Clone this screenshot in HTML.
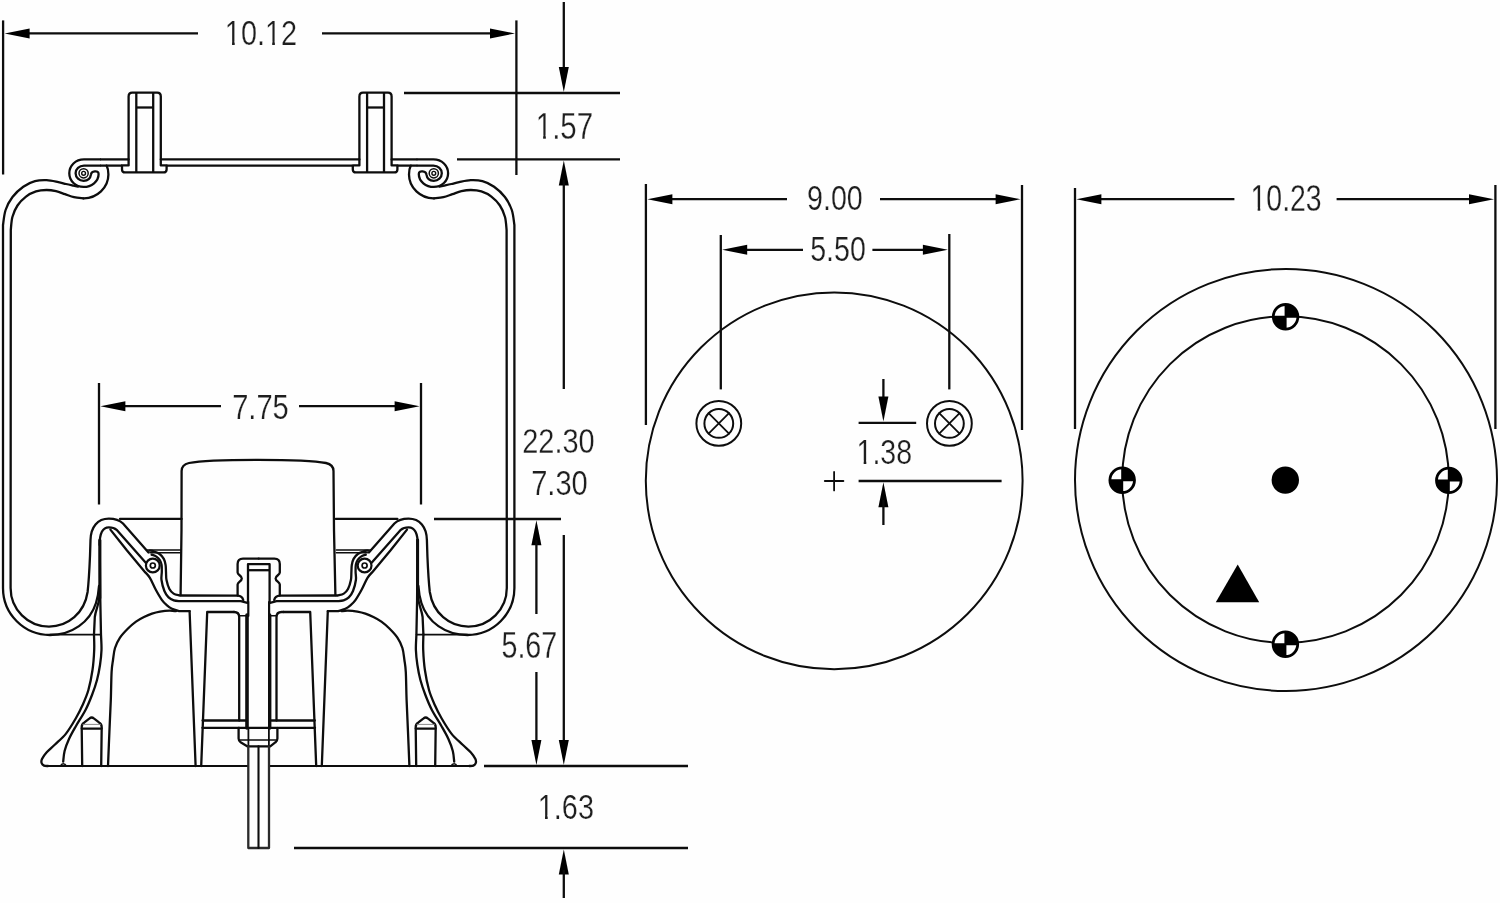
<!DOCTYPE html>
<html lang="en">
<head>
<meta charset="utf-8">
<title>Air spring dimensions</title>
<style>
html,body{margin:0;padding:0;background:#fefefe;}
body{width:1500px;height:903px;overflow:hidden;}
svg{display:block;}
</style>
</head>
<body>
<svg width="1500" height="903" viewBox="0 0 1500 903">
<rect width="1500" height="903" fill="#fefefe"/>
<g fill="none" stroke="#0d0d0d" stroke-linecap="round" stroke-linejoin="round">
<g id="hl"><path d="M78,186.6C77.22,186.43 75.3,186.03 73.3,185.6C71.3,185.17 68.5,184.58 66,184C63.5,183.42 61.52,182.73 58.3,182.1C55.08,181.47 50.58,180.35 46.7,180.2C42.82,180.05 38.9,180.12 35,181.2C31.1,182.28 27.05,184.07 23.3,186.7C19.55,189.33 15.45,193.12 12.5,197C9.55,200.88 7.18,205.33 5.6,210C4.02,214.67 3.43,222.5 3,225L3,588C3,614 24,635 50,635 C72,635 90,622 96,603 C97.6,598 98.6,592 99,586" stroke-width="2.3"/><path d="M83.3,198.3C81.75,198.12 77.05,197.88 74,197.2C70.95,196.52 68,195.2 65,194.2C62,193.2 59.08,191.9 56,191.2C52.92,190.5 49.83,189.97 46.5,190C43.17,190.03 39.42,190.3 36,191.4C32.58,192.5 29.08,194.25 26,196.6C22.92,198.95 19.77,202.1 17.5,205.5C15.23,208.9 13.52,212.92 12.4,217C11.28,221.08 11.07,227.83 10.8,230L10.6,588C10.6,609.5 28,626.6 49,626.6 C68,626.6 84.5,613 87.6,592 C88.6,583 89.4,570 90,556 L90.5,540C90.8,527 97.5,518.6 108.8,518.6 C115,518.6 119.5,520 123,523.5 L148.5,552.5" stroke-width="2.3"/><path d="M83.3,198.3C97,198.6 108.4,187.5 108.4,174.5C108.4,171 107.8,168 106.6,165.6" stroke-width="2.3"/><path d="M99.6,545 C99.6,533 102.5,527.4 108.8,527.4 C112,527.4 114.6,528 116.6,529.8 L146,563" stroke-width="2.3"/><path d="M110.4,529.6L127,550.5L144.9,571.9C145.73,572.9 148.08,574.92 149.9,577.9C151.72,580.88 153.82,586.15 155.8,589.8C157.78,593.45 159.93,597.2 161.8,599.8C163.67,602.4 165.3,603.9 167,605.4C168.7,606.9 169.87,607.83 172,608.8C174.13,609.77 178.5,610.8 179.8,611.2L189.6,611.2" stroke-width="2.3"/><path d="M100,159.4 L84,159.4 C75.5,159.4 69.3,165.6 69.3,173.3 C69.3,181 75.6,186.9 83.6,186.9 C91.5,186.9 98.6,181.5 98.6,174 C98.6,171.6 96.8,171.2 94.8,171.4 C92.6,171.6 91.2,172.6 91,174.4 C90.4,178.6 87.2,180.8 83.6,180.8 C79.3,180.8 75.6,177.6 75.6,173.3 C75.6,168.9 79.2,165.6 84,165.6 L100,165.6" stroke-width="2.3"/><circle cx="83.6" cy="173.3" r="4.6" stroke-width="1.5"/><circle cx="83.6" cy="173.3" r="1.9" stroke-width="1.4"/><path d="M120,518.9 L181.6,518.9" stroke-width="2.3"/><path d="M147,550 L181,550" stroke-width="1.6"/><path d="M150,552.8 L181,552.8" stroke-width="1.6"/><circle cx="152.8" cy="565.5" r="6.9" stroke-width="2.2"/><circle cx="152.8" cy="565.5" r="2.5" stroke-width="1.7"/><path d="M149.5,550.6C150.22,550.73 152.12,550.83 153.8,551.4C155.48,551.97 157.93,552.75 159.6,554C161.27,555.25 162.8,557.07 163.8,558.9C164.8,560.73 165.23,562.82 165.6,565C165.97,567.18 165.85,569.5 166,572C166.15,574.5 165.93,577.17 166.5,580C167.07,582.83 168.22,586.73 169.4,589C170.58,591.27 171.9,592.52 173.6,593.6C175.3,594.68 178.6,595.18 179.6,595.5L237.6,595.6" stroke-width="2.3"/><path d="M151.6,554.6C152.4,554.93 155.03,555.7 156.4,556.6C157.77,557.5 158.93,558.6 159.8,560C160.67,561.4 161.27,563 161.6,565C161.93,567 161.82,569.5 161.8,572C161.78,574.5 161.07,576.83 161.5,580C161.93,583.17 163.22,588.1 164.4,591C165.58,593.9 167.03,595.83 168.6,597.4C170.17,598.97 171.9,599.77 173.8,600.4C175.7,601.03 178.97,601.07 180,601.2L240.8,601.2 L247.4,602.8" stroke-width="2.3"/><path d="M99.4,597 C98.8,605 95.6,610 94.8,617 L94,634.5" stroke-width="2.3"/><path d="M94,634.5C94.03,637.08 94.45,644.08 94.2,650C93.95,655.92 93.47,663.33 92.5,670C91.53,676.67 90.05,684.17 88.4,690C86.75,695.83 84.67,700.33 82.6,705C80.53,709.67 78.77,713.23 76,718C73.23,722.77 69.5,729.18 66,733.6C62.5,738.02 58.25,741.35 55,744.5C51.75,747.65 48.67,750.08 46.5,752.5C44.33,754.92 42.82,757.25 42,759C41.18,760.75 41.27,761.9 41.6,763C41.93,764.1 42.93,765.1 44,765.6C45.07,766.1 47.33,765.93 48,766" stroke-width="2.3"/><path d="M99.8,540 L99.8,598" stroke-width="3"/><path d="M100,540L100,560L100.3,600L101,635C101.08,637.5 101.67,645 101.5,650C101.33,655 100.75,660 100,665C99.25,670 98.33,675 97,680C95.67,685 93.92,690 92,695C90.08,700 88.17,704.83 85.5,710C82.83,715.17 78.75,721.17 76,726C73.25,730.83 70.9,734.83 69,739C67.1,743.17 65.57,747.23 64.6,751C63.63,754.77 63.43,759.83 63.2,761.6" stroke-width="2.3"/><path d="M60.5,766 C61.5,763 65,763 66.4,766" stroke-width="1.4"/><path d="M50,634.6 L101,634.6" stroke-width="1.6"/><path d="M176,611.2C174.93,611.1 172.27,610.53 169.6,610.6C166.93,610.67 162.93,611.1 160,611.6C157.07,612.1 154.67,612.7 152,613.6C149.33,614.5 146.67,615.67 144,617C141.33,618.33 138.67,619.68 136,621.6C133.33,623.52 130.67,625.83 128,628.5C125.33,631.17 122.17,634.35 120,637.6C117.83,640.85 116.17,644.27 115,648C113.83,651.73 113.57,656 113,660C112.43,664 111.97,665.33 111.6,672C111.23,678.67 111.17,690 110.8,700C110.43,710 109.87,721 109.4,732C108.93,743 108.23,760.33 108,766" stroke-width="2.3"/><path d="M189.6,611.2 L195.6,766" stroke-width="2.3"/><path d="M201.2,766 L207.2,612 L234,612" stroke-width="2.3"/><path d="M202.6,720.5 L246,720.5" stroke-width="2.3"/><path d="M202.4,727.8 L239,727.8" stroke-width="2.3"/><path d="M82.2,766 L81.7,727 C81.7,724.6 82.6,723.4 84.4,722.4 L89.6,718.4 C91,717.2 92.4,717.2 93.8,718.4 L99,722.4 C100.8,723.4 101.7,724.6 101.7,727 L101.2,766" stroke-width="2.3"/><path d="M81.8,728.6 L101.6,728.6" stroke-width="2.3"/><path d="M83,724.4 L100.4,724.4" stroke-width="1" stroke="#8a8a8a"/><path d="M258.7,558.6 L243,558.6 C239.4,558.6 237.6,560.6 237.6,564 L237.6,572.6 C237.6,575 241.8,575.6 241.8,578.4 C241.8,581.2 237.6,582 237.6,584.6 L237.6,595.6 C241,595.8 242.6,597.4 243.2,600" stroke-width="2.3"/><path d="M46,766 L248,766" stroke-width="2"/></g>
<g transform="translate(517.4,0) scale(-1,1)"><path d="M78,186.6C77.22,186.43 75.3,186.03 73.3,185.6C71.3,185.17 68.5,184.58 66,184C63.5,183.42 61.52,182.73 58.3,182.1C55.08,181.47 50.58,180.35 46.7,180.2C42.82,180.05 38.9,180.12 35,181.2C31.1,182.28 27.05,184.07 23.3,186.7C19.55,189.33 15.45,193.12 12.5,197C9.55,200.88 7.18,205.33 5.6,210C4.02,214.67 3.43,222.5 3,225L3,588C3,614 24,635 50,635 C72,635 90,622 96,603 C97.6,598 98.6,592 99,586" stroke-width="2.3"/><path d="M83.3,198.3C81.75,198.12 77.05,197.88 74,197.2C70.95,196.52 68,195.2 65,194.2C62,193.2 59.08,191.9 56,191.2C52.92,190.5 49.83,189.97 46.5,190C43.17,190.03 39.42,190.3 36,191.4C32.58,192.5 29.08,194.25 26,196.6C22.92,198.95 19.77,202.1 17.5,205.5C15.23,208.9 13.52,212.92 12.4,217C11.28,221.08 11.07,227.83 10.8,230L10.6,588C10.6,609.5 28,626.6 49,626.6 C68,626.6 84.5,613 87.6,592 C88.6,583 89.4,570 90,556 L90.5,540C90.8,527 97.5,518.6 108.8,518.6 C115,518.6 119.5,520 123,523.5 L148.5,552.5" stroke-width="2.3"/><path d="M83.3,198.3C97,198.6 108.4,187.5 108.4,174.5C108.4,171 107.8,168 106.6,165.6" stroke-width="2.3"/><path d="M99.6,545 C99.6,533 102.5,527.4 108.8,527.4 C112,527.4 114.6,528 116.6,529.8 L146,563" stroke-width="2.3"/><path d="M110.4,529.6L127,550.5L144.9,571.9C145.73,572.9 148.08,574.92 149.9,577.9C151.72,580.88 153.82,586.15 155.8,589.8C157.78,593.45 159.93,597.2 161.8,599.8C163.67,602.4 165.3,603.9 167,605.4C168.7,606.9 169.87,607.83 172,608.8C174.13,609.77 178.5,610.8 179.8,611.2L189.6,611.2" stroke-width="2.3"/><path d="M100,159.4 L84,159.4 C75.5,159.4 69.3,165.6 69.3,173.3 C69.3,181 75.6,186.9 83.6,186.9 C91.5,186.9 98.6,181.5 98.6,174 C98.6,171.6 96.8,171.2 94.8,171.4 C92.6,171.6 91.2,172.6 91,174.4 C90.4,178.6 87.2,180.8 83.6,180.8 C79.3,180.8 75.6,177.6 75.6,173.3 C75.6,168.9 79.2,165.6 84,165.6 L100,165.6" stroke-width="2.3"/><circle cx="83.6" cy="173.3" r="4.6" stroke-width="1.5"/><circle cx="83.6" cy="173.3" r="1.9" stroke-width="1.4"/><path d="M120,518.9 L181.6,518.9" stroke-width="2.3"/><path d="M147,550 L181,550" stroke-width="1.6"/><path d="M150,552.8 L181,552.8" stroke-width="1.6"/><circle cx="152.8" cy="565.5" r="6.9" stroke-width="2.2"/><circle cx="152.8" cy="565.5" r="2.5" stroke-width="1.7"/><path d="M149.5,550.6C150.22,550.73 152.12,550.83 153.8,551.4C155.48,551.97 157.93,552.75 159.6,554C161.27,555.25 162.8,557.07 163.8,558.9C164.8,560.73 165.23,562.82 165.6,565C165.97,567.18 165.85,569.5 166,572C166.15,574.5 165.93,577.17 166.5,580C167.07,582.83 168.22,586.73 169.4,589C170.58,591.27 171.9,592.52 173.6,593.6C175.3,594.68 178.6,595.18 179.6,595.5L237.6,595.6" stroke-width="2.3"/><path d="M151.6,554.6C152.4,554.93 155.03,555.7 156.4,556.6C157.77,557.5 158.93,558.6 159.8,560C160.67,561.4 161.27,563 161.6,565C161.93,567 161.82,569.5 161.8,572C161.78,574.5 161.07,576.83 161.5,580C161.93,583.17 163.22,588.1 164.4,591C165.58,593.9 167.03,595.83 168.6,597.4C170.17,598.97 171.9,599.77 173.8,600.4C175.7,601.03 178.97,601.07 180,601.2L240.8,601.2 L247.4,602.8" stroke-width="2.3"/><path d="M99.4,597 C98.8,605 95.6,610 94.8,617 L94,634.5" stroke-width="2.3"/><path d="M94,634.5C94.03,637.08 94.45,644.08 94.2,650C93.95,655.92 93.47,663.33 92.5,670C91.53,676.67 90.05,684.17 88.4,690C86.75,695.83 84.67,700.33 82.6,705C80.53,709.67 78.77,713.23 76,718C73.23,722.77 69.5,729.18 66,733.6C62.5,738.02 58.25,741.35 55,744.5C51.75,747.65 48.67,750.08 46.5,752.5C44.33,754.92 42.82,757.25 42,759C41.18,760.75 41.27,761.9 41.6,763C41.93,764.1 42.93,765.1 44,765.6C45.07,766.1 47.33,765.93 48,766" stroke-width="2.3"/><path d="M99.8,540 L99.8,598" stroke-width="3"/><path d="M100,540L100,560L100.3,600L101,635C101.08,637.5 101.67,645 101.5,650C101.33,655 100.75,660 100,665C99.25,670 98.33,675 97,680C95.67,685 93.92,690 92,695C90.08,700 88.17,704.83 85.5,710C82.83,715.17 78.75,721.17 76,726C73.25,730.83 70.9,734.83 69,739C67.1,743.17 65.57,747.23 64.6,751C63.63,754.77 63.43,759.83 63.2,761.6" stroke-width="2.3"/><path d="M60.5,766 C61.5,763 65,763 66.4,766" stroke-width="1.4"/><path d="M50,634.6 L101,634.6" stroke-width="1.6"/><path d="M176,611.2C174.93,611.1 172.27,610.53 169.6,610.6C166.93,610.67 162.93,611.1 160,611.6C157.07,612.1 154.67,612.7 152,613.6C149.33,614.5 146.67,615.67 144,617C141.33,618.33 138.67,619.68 136,621.6C133.33,623.52 130.67,625.83 128,628.5C125.33,631.17 122.17,634.35 120,637.6C117.83,640.85 116.17,644.27 115,648C113.83,651.73 113.57,656 113,660C112.43,664 111.97,665.33 111.6,672C111.23,678.67 111.17,690 110.8,700C110.43,710 109.87,721 109.4,732C108.93,743 108.23,760.33 108,766" stroke-width="2.3"/><path d="M189.6,611.2 L195.6,766" stroke-width="2.3"/><path d="M201.2,766 L207.2,612 L234,612" stroke-width="2.3"/><path d="M202.6,720.5 L246,720.5" stroke-width="2.3"/><path d="M202.4,727.8 L239,727.8" stroke-width="2.3"/><path d="M82.2,766 L81.7,727 C81.7,724.6 82.6,723.4 84.4,722.4 L89.6,718.4 C91,717.2 92.4,717.2 93.8,718.4 L99,722.4 C100.8,723.4 101.7,724.6 101.7,727 L101.2,766" stroke-width="2.3"/><path d="M81.8,728.6 L101.6,728.6" stroke-width="2.3"/><path d="M83,724.4 L100.4,724.4" stroke-width="1" stroke="#8a8a8a"/><path d="M258.7,558.6 L243,558.6 C239.4,558.6 237.6,560.6 237.6,564 L237.6,572.6 C237.6,575 241.8,575.6 241.8,578.4 C241.8,581.2 237.6,582 237.6,584.6 L237.6,595.6 C241,595.8 242.6,597.4 243.2,600" stroke-width="2.3"/><path d="M46,766 L248,766" stroke-width="2"/></g>
<path d="M180.6,595 L181.5,530 L181.6,471 C181.6,466.4 183.6,464.2 189,463 C202,460.4 228,459.8 258,459.8 C288,459.8 313,460.4 326,463 C331.4,464.2 333.5,466.4 333.5,471 L334,530 L335.4,595" stroke-width="2.3"/><line x1="161.5" y1="159.4" x2="359" y2="159.4" stroke-width="2.3" stroke-linecap="butt"/><line x1="166.5" y1="165.6" x2="352" y2="165.6" stroke-width="2.3" stroke-linecap="butt"/><line x1="100" y1="159.4" x2="128.6" y2="159.4" stroke-width="2.3" stroke-linecap="butt"/><line x1="100" y1="165.6" x2="122" y2="165.6" stroke-width="2.3" stroke-linecap="butt"/><line x1="391.6" y1="159.4" x2="417.4" y2="159.4" stroke-width="2.3" stroke-linecap="butt"/><line x1="397.4" y1="165.6" x2="417.4" y2="165.6" stroke-width="2.3" stroke-linecap="butt"/><path d="M128.6,159.4 L128.6,96.4 C128.6,94 129.9,92.7 132.2,92.7 L157.2,92.7 C159.5,92.7 160.8,94 160.8,96.4 L160.8,159.4" stroke-width="2.3"/><path d="M128.6,159.4 L128.6,165.4 L122,165.4 L122,169.4 C122,171.4 123.2,172.4 125.2,172.4 L163.4,172.4 C165.4,172.4 166.6,171.4 166.6,169.4 L166.6,165.4 L160.8,165.4 L160.8,159.4" stroke-width="2.3"/><line x1="136.3" y1="92.7" x2="136.3" y2="172.4" stroke-width="2.3" stroke-linecap="butt"/><line x1="153.2" y1="92.7" x2="153.2" y2="172.4" stroke-width="2.3" stroke-linecap="butt"/><line x1="136.3" y1="107.5" x2="153.2" y2="107.5" stroke-width="2.3" stroke-linecap="butt"/><path d="M359.4,159.4 L359.4,96.4 C359.4,94 360.7,92.7 363,92.7 L388,92.7 C390.3,92.7 391.6,94 391.6,96.4 L391.6,159.4" stroke-width="2.3"/><path d="M359.4,159.4 L359.4,165.4 L352.8,165.4 L352.8,169.4 C352.8,171.4 354,172.4 356,172.4 L394.2,172.4 C396.2,172.4 397.4,171.4 397.4,169.4 L397.4,165.4 L391.6,165.4 L391.6,159.4" stroke-width="2.3"/><line x1="367.1" y1="92.7" x2="367.1" y2="172.4" stroke-width="2.3" stroke-linecap="butt"/><line x1="384" y1="92.7" x2="384" y2="172.4" stroke-width="2.3" stroke-linecap="butt"/><line x1="367.1" y1="107.5" x2="384" y2="107.5" stroke-width="2.3" stroke-linecap="butt"/><path d="M248,602 L248,564.2 L269.6,564.2 L269.6,602" stroke-width="2.3"/><line x1="248" y1="570.2" x2="269.6" y2="570.2" stroke-width="2.3" stroke-linecap="butt"/><line x1="248.3" y1="602" x2="248.3" y2="616" stroke-width="2.2"/><line x1="269.1" y1="602" x2="269.1" y2="616" stroke-width="2.2"/><line x1="247" y1="615" x2="247" y2="728" stroke-width="3.6"/><line x1="269.7" y1="615" x2="269.7" y2="728" stroke-width="3.4"/><path d="M234,612 C237.6,612 239.2,613.6 239.2,617 L239.2,720.5" stroke-width="2.3"/><path d="M283.4,612 L281.6,612 C278.2,612 276.5,613.6 276.5,617 L276.5,720.5" stroke-width="2.3"/><line x1="239.2" y1="615.8" x2="246" y2="615.8" stroke-width="1.6"/><line x1="270.6" y1="615.8" x2="276.5" y2="615.8" stroke-width="1.6"/><path d="M238.6,727.8 L238.6,738.6 C238.6,740.4 239.2,741.4 240.6,742.2 L247.6,746.4 L270.2,746.4 L275.6,742.2 C276.8,741.4 277.4,740.4 277.4,738.6 L277.4,727.8" stroke-width="2.3"/><line x1="239" y1="727.8" x2="277.4" y2="727.8" stroke-width="2.3" stroke-linecap="butt"/><line x1="240" y1="740" x2="276" y2="740" stroke-width="1.6"/><line x1="248.4" y1="728" x2="248.4" y2="746.4" stroke-width="1.8"/><line x1="268.9" y1="728" x2="268.9" y2="746.4" stroke-width="1.8"/><path d="M248.3,746.4 L248.3,848 L269,848 L269,746.4" stroke-width="2.3" stroke="#2a2a2a"/><line x1="258.5" y1="746.4" x2="258.5" y2="848" stroke-width="2.1"/>
<line x1="3.1" y1="20.4" x2="3.1" y2="174.5" stroke-width="2.3" stroke-linecap="butt"/><line x1="516.4" y1="20.4" x2="516.4" y2="175" stroke-width="2.3" stroke-linecap="butt"/><line x1="20" y1="33.4" x2="198" y2="33.4" stroke-width="2.3" stroke-linecap="butt"/><line x1="322" y1="33.4" x2="500" y2="33.4" stroke-width="2.3" stroke-linecap="butt"/><polygon points="4.6,33.4 29.6,28.4 29.6,38.4" fill="#000" stroke="none"/><polygon points="515,33.4 490,38.4 490,28.4" fill="#000" stroke="none"/><line x1="404" y1="93" x2="620" y2="93" stroke-width="2.3" stroke-linecap="butt"/><line x1="457" y1="159.4" x2="620" y2="159.4" stroke-width="2.3" stroke-linecap="butt"/><line x1="563.8" y1="2" x2="563.8" y2="75" stroke-width="2.3" stroke-linecap="butt"/><polygon points="563.8,92 558.8,67 568.8,67" fill="#000" stroke="none"/><polygon points="563.8,160.4 568.8,185.4 558.8,185.4" fill="#000" stroke="none"/><line x1="563.8" y1="180" x2="563.8" y2="389" stroke-width="2.3" stroke-linecap="butt"/><line x1="563.8" y1="535" x2="563.8" y2="750" stroke-width="2.3" stroke-linecap="butt"/><polygon points="563.8,765 558.8,740 568.8,740" fill="#000" stroke="none"/><line x1="99" y1="383" x2="99" y2="504.5" stroke-width="2.3" stroke-linecap="butt"/><line x1="421" y1="383" x2="421" y2="504.5" stroke-width="2.3" stroke-linecap="butt"/><line x1="115" y1="406.2" x2="221" y2="406.2" stroke-width="2.3" stroke-linecap="butt"/><line x1="299" y1="406.2" x2="405" y2="406.2" stroke-width="2.3" stroke-linecap="butt"/><polygon points="100.4,406.2 125.4,401.2 125.4,411.2" fill="#000" stroke="none"/><polygon points="419.6,406.2 394.6,411.2 394.6,401.2" fill="#000" stroke="none"/><line x1="434" y1="519" x2="561" y2="519" stroke-width="2.3" stroke-linecap="butt"/><polygon points="536.4,520.2 541.4,545.2 531.4,545.2" fill="#000" stroke="none"/><line x1="536.4" y1="540" x2="536.4" y2="614" stroke-width="2.3" stroke-linecap="butt"/><line x1="536.4" y1="672" x2="536.4" y2="750" stroke-width="2.3" stroke-linecap="butt"/><polygon points="536.4,765 531.4,740 541.4,740" fill="#000" stroke="none"/><line x1="484" y1="766" x2="688" y2="766" stroke-width="2.3" stroke-linecap="butt"/><line x1="294" y1="848" x2="688" y2="848" stroke-width="2.3" stroke-linecap="butt"/><polygon points="563.8,849.4 568.8,874.4 558.8,874.4" fill="#000" stroke="none"/><line x1="563.8" y1="870" x2="563.8" y2="898" stroke-width="2.3" stroke-linecap="butt"/><circle cx="834.2" cy="480.8" r="188.4" stroke-width="2"/><circle cx="718.8" cy="423.4" r="22.4" stroke-width="2"/><circle cx="718.8" cy="423.4" r="14.4" stroke-width="2"/><line x1="708.6" y1="413.2" x2="729" y2="433.6" stroke-width="1.8"/><line x1="708.6" y1="433.6" x2="729" y2="413.2" stroke-width="1.8"/><circle cx="949.4" cy="423.4" r="22.4" stroke-width="2"/><circle cx="949.4" cy="423.4" r="14.4" stroke-width="2"/><line x1="939.2" y1="413.2" x2="959.6" y2="433.6" stroke-width="1.8"/><line x1="939.2" y1="433.6" x2="959.6" y2="413.2" stroke-width="1.8"/><line x1="824.8" y1="481" x2="843.4" y2="481" stroke-width="1.8"/><line x1="834.1" y1="472" x2="834.1" y2="490.4" stroke-width="1.8"/><line x1="645.9" y1="184" x2="645.9" y2="425" stroke-width="2.3" stroke-linecap="butt"/><line x1="1022" y1="185" x2="1022" y2="430" stroke-width="2.3" stroke-linecap="butt"/><line x1="662" y1="199.2" x2="787" y2="199.2" stroke-width="2.3" stroke-linecap="butt"/><line x1="880" y1="199.2" x2="1005" y2="199.2" stroke-width="2.3" stroke-linecap="butt"/><polygon points="647.4,199.2 672.4,194.2 672.4,204.2" fill="#000" stroke="none"/><polygon points="1020.6,199.2 995.6,204.2 995.6,194.2" fill="#000" stroke="none"/><line x1="720.8" y1="235" x2="720.8" y2="389.4" stroke-width="2.3" stroke-linecap="butt"/><line x1="949.3" y1="234" x2="949.3" y2="389.4" stroke-width="2.3" stroke-linecap="butt"/><line x1="738" y1="249.8" x2="803" y2="249.8" stroke-width="2.3" stroke-linecap="butt"/><line x1="872.4" y1="249.8" x2="932" y2="249.8" stroke-width="2.3" stroke-linecap="butt"/><polygon points="722.2,249.8 747.2,244.8 747.2,254.8" fill="#000" stroke="none"/><polygon points="947.9,249.8 922.9,254.8 922.9,244.8" fill="#000" stroke="none"/><line x1="858.6" y1="422.8" x2="916.2" y2="422.8" stroke-width="2.3" stroke-linecap="butt"/><line x1="858.6" y1="481" x2="1001.6" y2="481" stroke-width="2.3" stroke-linecap="butt"/><line x1="883.4" y1="379" x2="883.4" y2="405" stroke-width="2.3" stroke-linecap="butt"/><polygon points="883.4,421.6 878.4,396.6 888.4,396.6" fill="#000" stroke="none"/><polygon points="883.4,482.2 888.4,507.2 878.4,507.2" fill="#000" stroke="none"/><line x1="883.4" y1="500" x2="883.4" y2="525" stroke-width="2.3" stroke-linecap="butt"/><circle cx="1286" cy="480" r="211" stroke-width="2"/><circle cx="1285.5" cy="479.6" r="163.3" stroke-width="2"/><circle cx="1285.3" cy="480.1" r="13.7" stroke-width="0" fill="#000" stroke="none"/><circle cx="1285.6" cy="316.8" r="12.3" fill="#fff" stroke="none"/><path d="M1285.6,316.8 L1285.6,304.5 A12.3,12.3 0 0 1 1297.9,316.8 Z M1285.6,316.8 L1285.6,329.1 A12.3,12.3 0 0 1 1273.3,316.8 Z" fill="#000" stroke="none"/><path d="M1273.3,316.8H1297.9M1285.6,304.5V329.1" stroke-width="2" stroke="#000" stroke-linecap="butt"/><circle cx="1285.6" cy="316.8" r="12.3" stroke-width="2.8" stroke="#000"/><circle cx="1122.2" cy="480.2" r="12.3" fill="#fff" stroke="none"/><path d="M1122.2,480.2 L1122.2,467.9 A12.3,12.3 0 0 1 1134.5,480.2 Z M1122.2,480.2 L1122.2,492.5 A12.3,12.3 0 0 1 1109.9,480.2 Z" fill="#000" stroke="none"/><path d="M1109.9,480.2H1134.5M1122.2,467.9V492.5" stroke-width="2" stroke="#000" stroke-linecap="butt"/><circle cx="1122.2" cy="480.2" r="12.3" stroke-width="2.8" stroke="#000"/><circle cx="1448.8" cy="480.4" r="12.3" fill="#fff" stroke="none"/><path d="M1448.8,480.4 L1448.8,468.1 A12.3,12.3 0 0 1 1461.1,480.4 Z M1448.8,480.4 L1448.8,492.7 A12.3,12.3 0 0 1 1436.5,480.4 Z" fill="#000" stroke="none"/><path d="M1436.5,480.4H1461.1M1448.8,468.1V492.7" stroke-width="2" stroke="#000" stroke-linecap="butt"/><circle cx="1448.8" cy="480.4" r="12.3" stroke-width="2.8" stroke="#000"/><circle cx="1285.4" cy="644.2" r="12.3" fill="#fff" stroke="none"/><path d="M1285.4,644.2 L1285.4,631.9 A12.3,12.3 0 0 1 1297.7,644.2 Z M1285.4,644.2 L1285.4,656.5 A12.3,12.3 0 0 1 1273.1,644.2 Z" fill="#000" stroke="none"/><path d="M1273.1,644.2H1297.7M1285.4,631.9V656.5" stroke-width="2" stroke="#000" stroke-linecap="butt"/><circle cx="1285.4" cy="644.2" r="12.3" stroke-width="2.8" stroke="#000"/><polygon points="1237.7,564.4 1259.2,602.2 1215.8,602.2" fill="#000" stroke="none"/><line x1="1075" y1="188" x2="1075" y2="429" stroke-width="2.3" stroke-linecap="butt"/><line x1="1495.4" y1="185" x2="1495.4" y2="429" stroke-width="2.3" stroke-linecap="butt"/><line x1="1092" y1="199.2" x2="1234.4" y2="199.2" stroke-width="2.3" stroke-linecap="butt"/><line x1="1336.6" y1="199.2" x2="1478" y2="199.2" stroke-width="2.3" stroke-linecap="butt"/><polygon points="1076.4,199.2 1101.4,194.2 1101.4,204.2" fill="#000" stroke="none"/><polygon points="1494,199.2 1469,204.2 1469,194.2" fill="#000" stroke="none"/>
</g>
<filter id="gs" x="0" y="0" width="100%" height="100%" filterUnits="userSpaceOnUse" color-interpolation-filters="sRGB"><feColorMatrix type="saturate" values="0"/></filter><g filter="url(#gs)" font-family="'Liberation Sans',Arial,Helvetica,sans-serif" font-size="36" fill="#1e1e1e" stroke="#fefefe" stroke-width="0.25"><g transform="translate(224.83,45.3) scale(0.8024,1)"><text>10.12</text><rect x="1.08" y="-3.78" width="7.9" height="5.04" fill="#fefefe" stroke="none"/><rect x="12.31" y="-3.78" width="7.31" height="5.04" fill="#fefefe" stroke="none"/><rect x="51.12" y="-3.78" width="7.9" height="5.04" fill="#fefefe" stroke="none"/><rect x="62.36" y="-3.78" width="7.31" height="5.04" fill="#fefefe" stroke="none"/></g><g transform="translate(535.77,138.7) scale(0.8184,1)"><text>1.57</text><rect x="1.08" y="-3.78" width="7.9" height="5.04" fill="#fefefe" stroke="none"/><rect x="12.31" y="-3.78" width="7.31" height="5.04" fill="#fefefe" stroke="none"/></g><g transform="translate(232.14,418.7) scale(0.8086,1)"><text>7.75</text></g><g transform="translate(522.15,453.3) scale(0.8052,1)"><text>22.30</text></g><g transform="translate(531.14,494.7) scale(0.8086,1)"><text>7.30</text></g><g transform="translate(501.45,657.9) scale(0.7966,1)"><text>5.67</text></g><g transform="translate(537.83,818.7) scale(0.8007,1)"><text>1.63</text><rect x="1.08" y="-3.78" width="7.9" height="5.04" fill="#fefefe" stroke="none"/><rect x="12.31" y="-3.78" width="7.31" height="5.04" fill="#fefefe" stroke="none"/></g><g transform="translate(807.01,210.4) scale(0.7960,1)"><text>9.00</text></g><g transform="translate(810.16,261.2) scale(0.7939,1)"><text>5.50</text></g><g transform="translate(856.56,464.4) scale(0.7923,1)"><text>1.38</text><rect x="1.08" y="-3.78" width="7.9" height="5.04" fill="#fefefe" stroke="none"/><rect x="12.31" y="-3.78" width="7.31" height="5.04" fill="#fefefe" stroke="none"/></g><g transform="translate(1250.57,211.2) scale(0.7896,1)"><text>10.23</text><rect x="1.08" y="-3.78" width="7.9" height="5.04" fill="#fefefe" stroke="none"/><rect x="12.31" y="-3.78" width="7.31" height="5.04" fill="#fefefe" stroke="none"/></g></g>
</svg>
</body>
</html>
